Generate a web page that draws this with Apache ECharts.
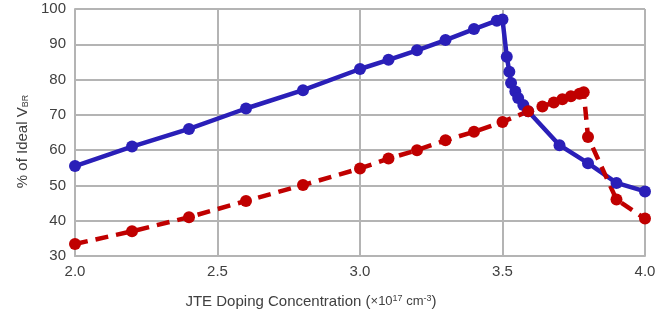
<!DOCTYPE html>
<html>
<head>
<meta charset="utf-8">
<script src="https://cdn.jsdelivr.net/npm/echarts@6/dist/echarts.min.js"></script>
<style>
  html, body { margin: 0; padding: 0; background: #fff; }
  #chart { width: 669px; height: 320px; }
</style>
</head>
<body>
<div id="chart"></div>
<script>
// Breakdown voltage vs JTE doping, two curves
var blueX = [2.0, 2.2, 2.4, 2.6, 2.8, 3.0, 3.1, 3.2, 3.3, 3.4, 3.48, 3.5, 3.515, 3.524, 3.53, 3.545, 3.555, 3.573, 3.59, 3.7, 3.8, 3.9, 4.0];
var blueY = [55.5, 61, 66, 71.8, 77, 83, 85.6, 88.3, 91.2, 94.3, 96.7, 97, 86.5, 82.2, 79, 76.6, 74.8, 72.8, 71, 61.4, 56.3, 50.7, 48.3];

var redX = [2.0, 2.2, 2.4, 2.6, 2.8, 3.0, 3.1, 3.2, 3.3, 3.4, 3.5, 3.59, 3.64, 3.68, 3.71, 3.74, 3.77, 3.785, 3.8, 3.9, 4.0];
var redY = [33.4, 37, 41, 45.6, 50.1, 54.8, 57.6, 60, 62.8, 65.2, 68, 71, 72.4, 73.5, 74.4, 75.3, 76, 76.4, 63.7, 46, 40.6];

var xTicks = [2.0, 2.5, 3.0, 3.5, 4.0];
var yTicks = [30, 40, 50, 60, 70, 80, 90, 100];

function zip(xs, ys) {
  return xs.map(function (x, i) { return [x, ys[i]]; });
}

var GRID = '#b4b4b4';
var TEXT = '#404040';
var FONT = 'Liberation Sans';

var chart = echarts.init(document.getElementById('chart'), null, { renderer: 'canvas' });

chart.setOption({
  backgroundColor: '#fff',
  animation: false,
  grid: { left: 75, right: 24, top: 9, bottom: 64 },
  xAxis: {
    type: 'value',
    min: xTicks[0],
    max: xTicks[xTicks.length - 1],
    interval: 0.5,
    name: 'JTE Doping Concentration {s|(}{x|×10}{sup|17}{x| cm}{sup|-3}{s|)}',
    nameLocation: 'middle',
    nameGap: 38,
    nameTextStyle: {
      color: TEXT, fontFamily: FONT, fontSize: 15,
      padding: [0, 98, 0, 0],
      rich: {
        s: { color: TEXT, fontFamily: FONT, fontSize: 15 },
        x: { color: TEXT, fontFamily: FONT, fontSize: 13 },
        sup: { color: TEXT, fontFamily: FONT, fontSize: 9, verticalAlign: 'top', lineHeight: 14, padding: [0, 0, 6, 0] }
      }
    },
    axisLabel: {
      color: TEXT, fontFamily: FONT, fontSize: 15, margin: 8,
      formatter: function (v) { return v.toFixed(1); }
    },
    axisLine: { show: true, lineStyle: { color: GRID, width: 2 } },
    axisTick: { show: false },
    splitLine: { show: true, lineStyle: { color: GRID, width: 2 } }
  },
  yAxis: {
    type: 'value',
    min: yTicks[0],
    max: yTicks[yTicks.length - 1],
    interval: 10,
    name: '% of Ideal V{sub|BR}',
    nameLocation: 'middle',
    nameRotate: 90,
    nameGap: 45,
    nameTextStyle: {
      color: TEXT, fontFamily: FONT, fontSize: 15,
      padding: [0, 18, 0, 0],
      rich: {
        sub: { color: TEXT, fontFamily: FONT, fontSize: 9, verticalAlign: 'bottom', padding: [6, 0, 0, 0] }
      }
    },
    axisLabel: { color: TEXT, fontFamily: FONT, fontSize: 15, margin: 9 },
    axisLine: { show: true, lineStyle: { color: GRID, width: 2 } },
    axisTick: { show: false },
    splitLine: { show: true, lineStyle: { color: GRID, width: 2 } }
  },
  series: [{
    name: 'blue',
    type: 'line',
    data: zip(blueX, blueY),
    symbol: 'circle',
    symbolSize: 12,
    lineStyle: { color: '#2a1fb8', width: 4.5 },
    itemStyle: { color: '#2a1fb8' }
  }, {
    name: 'red',
    type: 'line',
    data: zip(redX, redY),
    symbol: 'circle',
    symbolSize: 12,
    lineStyle: { color: '#c00000', width: 4.5, type: [13, 8] },
    itemStyle: { color: '#c00000' }
  }]
});
</script>
</body>
</html>
